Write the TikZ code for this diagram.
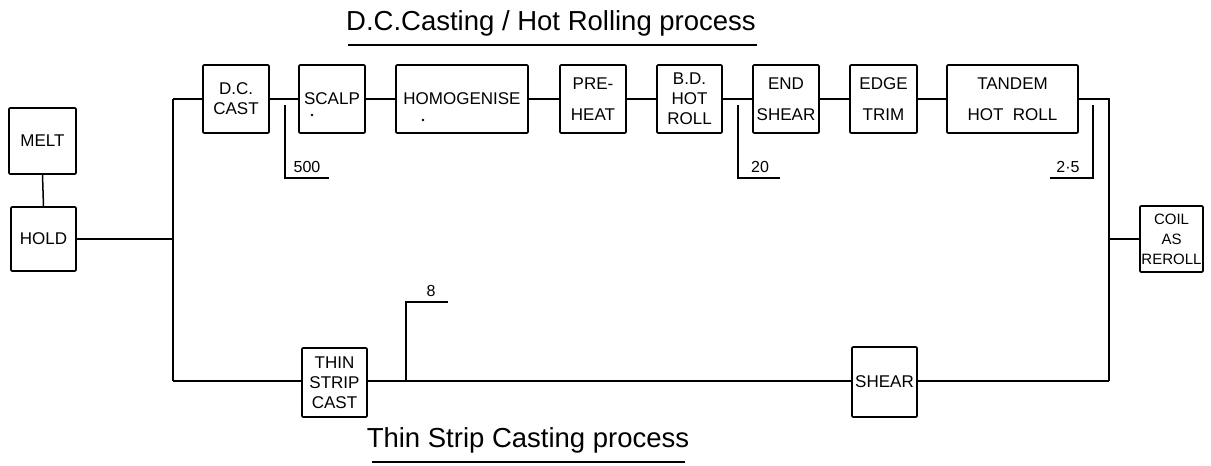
\documentclass[tikz,border=0pt]{standalone}
\usepackage{fontspec}
\setmainfont{Liberation Sans}
\begin{document}
\begin{tikzpicture}[x=1pt,y=-1pt,
  box/.style={draw,line width=1.6pt,rounded corners=1pt,inner sep=0pt,
    font=\fontsize{17}{20}\selectfont,align=center},
  conn/.style={line width=1.5pt},
  lbl/.style={font=\fontsize{16}{18}\selectfont,inner sep=0pt},
  ttl/.style={font=\fontsize{27.5}{30}\selectfont,inner sep=0pt}]
\useasboundingbox (0,0) rectangle (1211,466);
% boxes
\node[box,minimum width=67pt,minimum height=66pt] (melt) at (42.5,141) {MELT};
\node[box,minimum width=65pt,minimum height=64pt] (hold) at (43.5,239) {HOLD};
\node[box,minimum width=66pt,minimum height=68pt] (dccast) at (236,99) {D.C.\\CAST};
\node[box,minimum width=66pt,minimum height=68pt] (scalp) at (332,99) {SCALP};
\node[box,minimum width=132pt,minimum height=68pt] (homog) at (462,99) {HOMOGENISE};
\node[box,minimum width=66pt,minimum height=68pt] (preheat) at (593,99) {PRE-\\[11pt]HEAT};
\node[box,minimum width=65pt,minimum height=68pt] (bdroll) at (689.5,99) {B.D.\\HOT\\ROLL};
\node[box,minimum width=66pt,minimum height=68pt] (endshear) at (786,99) {END\\[11pt]SHEAR};
\node[box,minimum width=67pt,minimum height=68pt] (edgetrim) at (883.5,99) {EDGE\\[11pt]TRIM};
\node[box,minimum width=131pt,minimum height=68pt] (tandem) at (1012.5,99) {TANDEM\\[11pt]HOT\ \ ROLL};
\node[box,minimum width=63pt,minimum height=66pt,font=\fontsize{15}{20}\selectfont] (coil) at (1171.5,239) {COIL\\AS\\REROLL};
\node[box,minimum width=65pt,minimum height=69pt] (thin) at (334.5,382.5) {THIN\\STRIP\\CAST};
\node[box,minimum width=65pt,minimum height=70pt] (shear) at (884.5,382) {SHEAR};
% small dots
\fill (312,115) circle (1.3pt);
\fill (423,120) circle (1.3pt);
% bus coordinates
\coordinate (lt) at (173,99);
\coordinate (lm) at (173,239);
\coordinate (lb) at (173,381);
\coordinate (rt) at (1109,99);
\coordinate (rm) at (1109,239);
\coordinate (rb) at (1109,381);
% connectors
\draw[conn] (melt.south) -- (hold.north);
\draw[conn] (hold.east) -- (lm);
\draw[conn] (lt) -- (lb);
\draw[conn] (lt) -- (dccast.west);
\draw[conn] (dccast.east) -- (scalp.west);
\draw[conn] (scalp.east) -- (homog.west);
\draw[conn] (homog.east) -- (preheat.west);
\draw[conn] (preheat.east) -- (bdroll.west);
\draw[conn] (bdroll.east) -- (endshear.west);
\draw[conn] (endshear.east) -- (edgetrim.west);
\draw[conn] (edgetrim.east) -- (tandem.west);
\draw[conn] (tandem.east) -- (rt) -- (rb);
\draw[conn] (rm) -- (coil.west);
\draw[conn] (lb) -- (thin.west |- lb);
\draw[conn] (thin.east |- lb) -- (shear.west |- lb);
\draw[conn] (shear.east |- lb) -- (rb);
% thickness markers
\coordinate (m500a) at (285,105);
\coordinate (m500b) at (285,178);
\coordinate (m500c) at (329,178);
\draw[conn,line width=1.3pt] (m500a) -- (m500b) -- (m500c);
\node[lbl] (t500) at (307,167) {500};
\coordinate (m20a) at (738,105);
\coordinate (m20b) at (738,178);
\coordinate (m20c) at (780,178);
\draw[conn,line width=1.3pt] (m20a) -- (m20b) -- (m20c);
\node[lbl] (t20) at (760,167) {20};
\coordinate (m25a) at (1093,105);
\coordinate (m25b) at (1093,178);
\coordinate (m25c) at (1050,178);
\draw[conn,line width=1.3pt] (m25a) -- (m25b) -- (m25c);
\node[lbl] (t25) at (1068,167) {2·5};
\coordinate (m8a) at (406,381);
\coordinate (m8b) at (406,302);
\coordinate (m8c) at (448,302);
\draw[conn,line width=1.3pt] (m8a) -- (m8b) -- (m8c);
\node[lbl] (t8) at (431,291) {8};
% titles
\node[ttl] (title1) at (551,23) {D.C.Casting / Hot Rolling process};
\draw[line width=1.3pt] (348,45) -- (757,45);
\node[ttl] (title2) at (528,440) {Thin Strip Casting process};
\draw[line width=1.3pt] (372,462) -- (685,462);
\end{tikzpicture}
\end{document}
